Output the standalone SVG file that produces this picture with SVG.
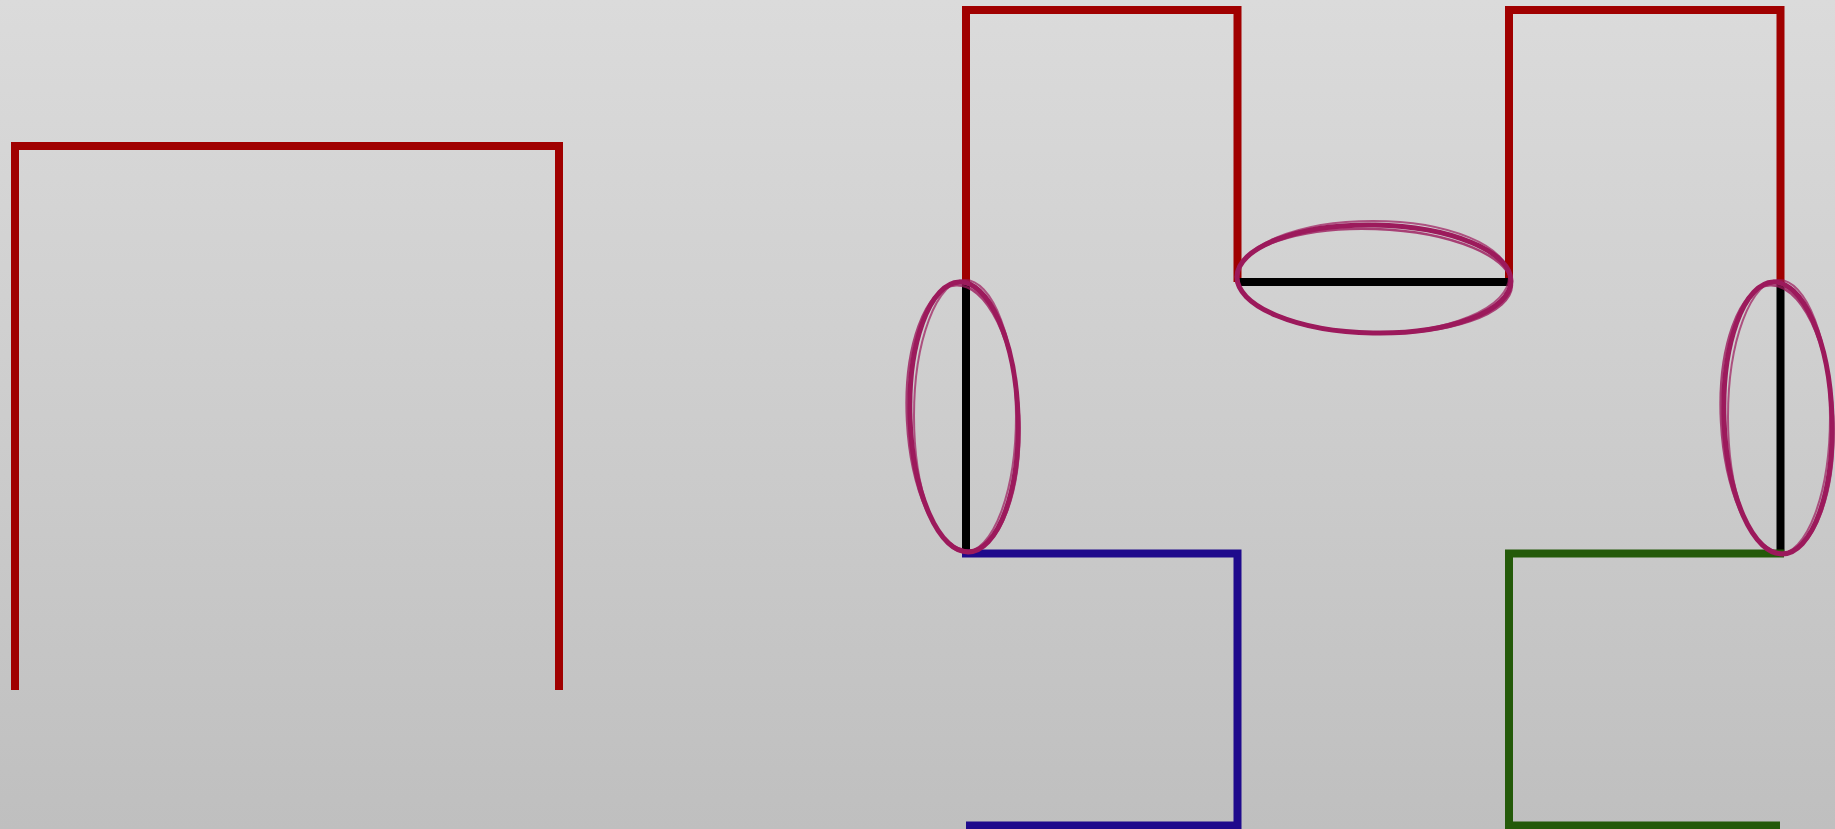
<svg xmlns="http://www.w3.org/2000/svg" width="1835" height="829" viewBox="0 0 1835 829">
<defs>
<linearGradient id="bg" x1="0" y1="0" x2="0" y2="1">
<stop offset="0" stop-color="#dbdbdb"/>
<stop offset="1" stop-color="#bfbfbf"/>
</linearGradient>
</defs>
<style>
.ln{fill:none;stroke-width:8;stroke-linejoin:miter;stroke-linecap:butt}
.red{stroke:#a00000}
.blue{stroke:#1f0a8c}
.green{stroke:#245a0a}
.blk{stroke:#000}
.br{fill:none;stroke:#9c1a5c}
</style>
<rect width="1835" height="829" fill="url(#bg)"/>
<g id="left-shape">
<path class="ln red" d="M15,690 V146 H559 V690"/>
</g>
<g id="connectors">
<path class="ln red" d="M966,282 V10 H1237.5 V282"/>
<path class="ln red" d="M1509,282 V10 H1780.5 V282"/>
<path class="ln blk" d="M966,282 V553.5"/>
<path class="ln blk" d="M1237.5,282 H1509"/>
<path class="ln blk" d="M1780.5,282 V553.5"/>
<path class="ln blue" d="M962,553.5 H1237.5 V825.5 H966"/>
<path class="ln green" d="M1784,553.5 H1509 V825.5 H1780"/>
</g>
<g id="ellipse-left">
<ellipse class="br" cx="964" cy="417" rx="54" ry="135" stroke-width="5" transform="rotate(-2 964 417)"/>
<ellipse class="br" cx="963" cy="418" rx="56" ry="133" stroke-width="2.5" opacity="0.8" transform="rotate(-3 963 418)"/>
<ellipse class="br" cx="965" cy="416" rx="51" ry="136" stroke-width="2" opacity="0.7"/>
</g>
<g id="ellipse-middle">
<ellipse class="br" cx="1374" cy="279" rx="137" ry="54" stroke-width="5" transform="rotate(1 1374 279)"/>
<ellipse class="br" cx="1374" cy="281" rx="138" ry="52" stroke-width="2.5" opacity="0.8" transform="rotate(2 1374 281)"/>
<ellipse class="br" cx="1373" cy="277" rx="136" ry="56" stroke-width="2" opacity="0.7"/>
</g>
<g id="ellipse-right">
<ellipse class="br" cx="1778" cy="418" rx="54" ry="136" stroke-width="5" transform="rotate(-2 1778 418)"/>
<ellipse class="br" cx="1777" cy="419" rx="56" ry="134" stroke-width="2.5" opacity="0.8" transform="rotate(-3 1777 419)"/>
<ellipse class="br" cx="1779" cy="417" rx="51" ry="137" stroke-width="2" opacity="0.7"/>
</g>
</svg>
